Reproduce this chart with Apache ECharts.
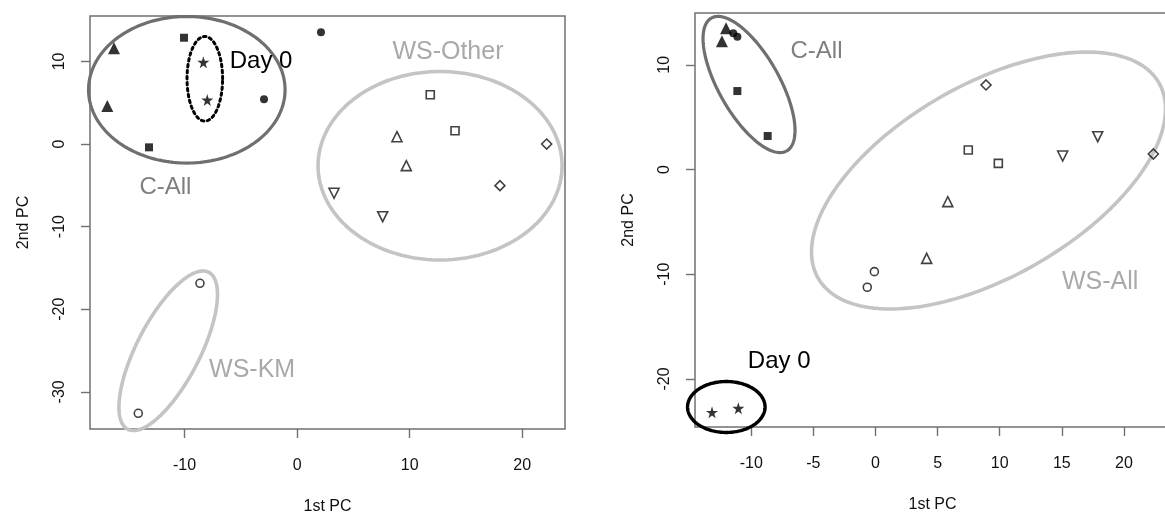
<!DOCTYPE html>
<html><head><meta charset="utf-8">
<script src="https://cdn.jsdelivr.net/npm/echarts@6/dist/echarts.min.js"></script>
<style>html,body{margin:0;padding:0;background:#fff}#c{width:1165px;height:514px}</style>
</head><body><div id="c"></div>
<script>
// ---------- Left panel values [1st PC, 2nd PC] ----------
const L_cTri   = [[-16.27, 11.59], [-16.86, 4.6]];
const L_cSq    = [[-10.05, 12.87], [-13.16, -0.4]];
const L_cCirc  = [[-2.94, 5.42], [2.12, 13.53]];
const L_day0   = [[-8.33, 9.9], [-7.98, 5.33]];
const L_wsCirc = [[-8.63, -16.86], [-14.11, -32.6]];
const L_wsTri  = [[8.87, 0.89], [9.7, -2.62]];
const L_wsSq   = [[11.83, 5.97], [14.03, 1.61]];
const L_wsDTri = [[3.28, -5.96], [7.6, -8.8]];
const L_wsDiam = [[22.17, 0.0], [18.02, -5.04]];
const L_xTicks = [-10, 0, 10, 20];
const L_yTicks = [-30, -20, -10, 0, 10];
// ---------- Right panel values ----------
const R_cTri   = [[-12.03, 13.48], [-12.36, 12.24]];
const R_cSq    = [[-11.12, 7.49], [-8.68, 3.2]];
const R_cCirc  = [[-11.45, 13.0], [-11.12, 12.68]];
const R_day0   = [[-13.16, -23.18], [-11.04, -22.79]];
const R_wsCirc = [[-0.09, -9.75], [-0.66, -11.24]];
const R_wsTri  = [[5.82, -3.07], [4.12, -8.48]];
const R_wsSq   = [[7.47, 1.86], [9.89, 0.59]];
const R_wsDTri = [[15.07, 1.29], [17.89, 3.13]];
const R_wsDiam = [[8.9, 8.07], [22.37, 1.48]];
const R_xTicks = [-10, -5, 0, 5, 10, 15, 20];
const R_yTicks = [-20, -10, 0, 10];
// ---------- Group ellipses (data units): [cx, cy, ux, uy, vx, vy] ----------
const L_ellipses = [
  [-9.8, 6.57, 8.73, 0, 0, 8.87],      // C-All
  [-8.2, 7.9, 1.58, 0, 0, 5.12],       // Day 0
  [12.7, -2.63, 10.84, 0, 0, 11.41],   // WS-Other
  [-11.45, -25.03, 3.60, 9.50, 2.49, -1.75] // WS-KM
];
const R_ellipses = [
  [-10.18, 8.115, 3.035, -6.34, -2.12, -1.43], // C-All
  [9.10, -1.05, 13.72, 9.32, 3.85, -7.97],     // WS-All
  [-12.01, -22.67, 3.12, 0, 0, 2.43]           // Day 0
];
// ---------- Annotation labels ----------
const L_labels = [['Day 0', -3.2, 9.99], ['C-All', -11.7, -5.3], ['WS-Other', 13.4, 11.1], ['WS-KM', -4.0, -27.4]];
const R_labels = [['C-All', -4.75, 11.25], ['WS-All', 18.08, -10.71], ['Day 0', -7.75, -18.35]];

// ---------- styles ----------
const FONT = 'Liberation Sans, Arial, sans-serif';
const DARK = '#6f6f6f', LIGHT = '#c4c4c4';
const L_ellStyle = [
  {stroke: DARK, lineWidth: 3.2},
  {stroke: '#000', lineWidth: 3, lineDash: [2.5, 3.5], lineCap: 'round'},
  {stroke: LIGHT, lineWidth: 3.6},
  {stroke: LIGHT, lineWidth: 3.6}
];
const R_ellStyle = [
  {stroke: DARK, lineWidth: 3.2},
  {stroke: LIGHT, lineWidth: 3.6},
  {stroke: '#000', lineWidth: 3.4}
];
const L_labStyle = [
  {fill: '#000', fontSize: 24},
  {fill: '#7f7f7f', fontSize: 24},
  {fill: '#a9a9a9', fontSize: 25},
  {fill: '#a9a9a9', fontSize: 25}
];
const R_labStyle = [
  {fill: '#7f7f7f', fontSize: 24},
  {fill: '#a9a9a9', fontSize: 25},
  {fill: '#000', fontSize: 24}
];
const STAR = 'path://M50,0 L61,35 L98,35 L68,57 L79,91 L50,70 L21,91 L32,57 L2,35 L39,35 Z';
const groupDefs = [
  {key: 'cTri', symbol: 'triangle', size: 12, filled: true},
  {key: 'cSq', symbol: 'rect', size: 8, filled: true},
  {key: 'cCirc', symbol: 'circle', size: 8, filled: true},
  {key: 'day0', symbol: STAR, size: 12, filled: true},
  {key: 'wsCirc', symbol: 'circle', size: 8, filled: false},
  {key: 'wsTri', symbol: 'triangle', size: 10, filled: false},
  {key: 'wsSq', symbol: 'rect', size: 8, filled: false},
  {key: 'wsDTri', symbol: 'triangle', size: 10, filled: false, rotate: 180},
  {key: 'wsDiam', symbol: 'diamond', size: 10, filled: false}
];
const L_data = {cTri: L_cTri, cSq: L_cSq, cCirc: L_cCirc, day0: L_day0, wsCirc: L_wsCirc, wsTri: L_wsTri, wsSq: L_wsSq, wsDTri: L_wsDTri, wsDiam: L_wsDiam};
const R_data = {cTri: R_cTri, cSq: R_cSq, cCirc: R_cCirc, day0: R_day0, wsCirc: R_wsCirc, wsTri: R_wsTri, wsSq: R_wsSq, wsDTri: R_wsDTri, wsDiam: R_wsDiam};

function scatterSeries(idx, dataMap) {
  return groupDefs.map(g => ({
    type: 'scatter', xAxisIndex: idx, yAxisIndex: idx, data: dataMap[g.key],
    symbol: g.symbol, symbolSize: g.size, symbolRotate: g.rotate || 0, z: 5,
    itemStyle: g.filled ? {color: '#000'} : {color: 'rgba(255,255,255,0)', borderColor: '#111', borderWidth: 1.6},
    emphasis: {disabled: true}
  }));
}
function ellipseSeries(idx, ells, styles) {
  return {
    type: 'custom', xAxisIndex: idx, yAxisIndex: idx, data: ells, clip: false, z: 3, silent: true,
    renderItem(params, api) {
      const v = [0,1,2,3,4,5].map(i => api.value(i));
      const pts = [];
      for (let i = 0; i < 180; i++) {
        const t = i / 180 * 2 * Math.PI;
        pts.push(api.coord([v[0] + v[2]*Math.cos(t) + v[4]*Math.sin(t), v[1] + v[3]*Math.cos(t) + v[5]*Math.sin(t)]));
      }
      return {type: 'polygon', shape: {points: pts}, style: Object.assign({fill: 'none'}, styles[params.dataIndex])};
    }
  };
}
function labelSeries(idx, labels, styles) {
  return {
    type: 'custom', xAxisIndex: idx, yAxisIndex: idx, data: labels.map(l => [l[1], l[2]]), clip: false, z: 6, silent: true,
    renderItem(params, api) {
      const p = api.coord([api.value(0), api.value(1)]);
      const s = styles[params.dataIndex];
      return {type: 'text', x: p[0], y: p[1], style: {text: labels[params.dataIndex][0], fill: s.fill, fontSize: s.fontSize, fontFamily: FONT, align: 'center', verticalAlign: 'middle'}};
    }
  };
}
function mkX(idx, min, max, ticks) {
  return {type: 'value', gridIndex: idx, min, max, splitLine: {show: false}, axisLine: {show: false, onZero: false},
    axisTick: {show: true, length: 9, customValues: ticks, lineStyle: {color: '#707070', width: 1.4}},
    axisLabel: {customValues: ticks, margin: 29, fontSize: 16, color: '#111', fontFamily: FONT},
    name: '1st PC', nameLocation: 'middle', nameGap: 70, nameTextStyle: {fontSize: 16, color: '#111', fontFamily: FONT}};
}
function mkY(idx, min, max, ticks) {
  return {type: 'value', gridIndex: idx, min, max, splitLine: {show: false}, axisLine: {show: false, onZero: false},
    axisTick: {show: true, length: 9, customValues: ticks, lineStyle: {color: '#707070', width: 1.4}},
    axisLabel: {customValues: ticks, margin: 22, rotate: 90, fontSize: 16, color: '#111', fontFamily: FONT},
    name: '2nd PC', nameLocation: 'middle', nameGap: 58, nameTextStyle: {fontSize: 16, color: '#111', fontFamily: FONT}};
}

const chart = echarts.init(document.getElementById('c'), null, {renderer: 'canvas'});
chart.setOption({
  animation: false,
  backgroundColor: '#fff',
  grid: [
    {left: 90, top: 16, width: 475, height: 413, show: true, borderColor: '#707070', borderWidth: 1.5, containLabel: false, outerBoundsMode: 'none'},
    {left: 695, top: 13, width: 475, height: 414, show: true, borderColor: '#707070', borderWidth: 1.5, containLabel: false, outerBoundsMode: 'none'}
  ],
  xAxis: [mkX(0, -18.4, 23.8, L_xTicks), mkX(1, -14.53, 23.71, R_xTicks)],
  yAxis: [mkY(0, -34.5, 15.5, L_yTicks), mkY(1, -24.58, 14.94, R_yTicks)],
  series: [
    ellipseSeries(0, L_ellipses, L_ellStyle),
    ellipseSeries(1, R_ellipses, R_ellStyle),
    labelSeries(0, L_labels, L_labStyle),
    labelSeries(1, R_labels, R_labStyle),
    ...scatterSeries(0, L_data),
    ...scatterSeries(1, R_data)
  ]
});
</script></body></html>
